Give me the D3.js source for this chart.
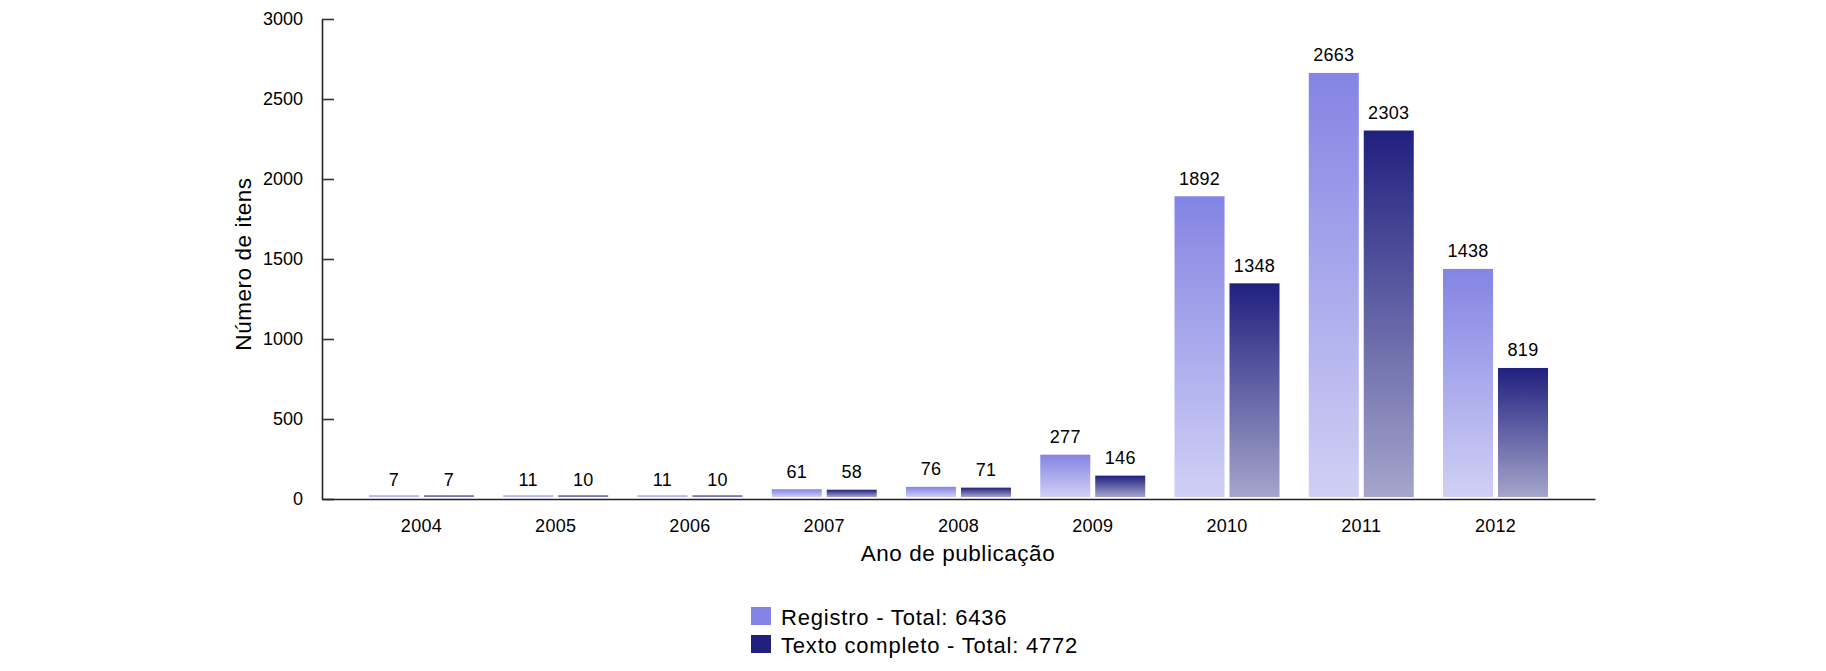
<!DOCTYPE html>
<html>
<head>
<meta charset="utf-8">
<script src="https://cdn.jsdelivr.net/npm/d3@7"></script>
<style>
  body { margin: 0; background: #fff; }
  text { font-family: "Liberation Sans", Arial, sans-serif; fill: #000; }
</style>
</head>
<body>
<div id="grafico"></div>
<script>
// Datos
var anos = ["2004", "2005", "2006", "2007", "2008", "2009", "2010", "2011", "2012"];
var series = ["Registro", "Texto completo"];
var registro = [7, 11, 11, 61, 76, 277, 1892, 2663, 1438];
var textoCompleto = [7, 10, 10, 58, 71, 146, 1348, 2303, 819];
var totales = [6436, 4772];
var yTicks = [0, 500, 1000, 1500, 2000, 2500, 3000];

var width = 1826, height = 671;
var margin = { left: 322, right: 231, top: 19, bottom: 172 };
var y0 = height - margin.bottom; // linea del eje x

// colores: [arriba, abajo] de cada degradado
var colores = [["#8484e4", "#d0d0f5"], ["#20207f", "#a5a5cc"]];

var data = anos.map(function(a, i) {
    return { ano: a, valores: [registro[i], textoCompleto[i]] };
});

var svg = d3.select("#grafico")
    .append("svg")
    .attr("width", width)
    .attr("height", height);

// degradados verticales por barra
var defs = svg.append("defs");
colores.forEach(function(c, i) {
    var g = defs.append("linearGradient")
        .attr("id", "grad" + i)
        .attr("x1", 0).attr("y1", 0)
        .attr("x2", 0).attr("y2", 1);
    g.append("stop").attr("offset", "0%").attr("stop-color", c[0]);
    g.append("stop").attr("offset", "100%").attr("stop-color", c[1]);
});

// ESCALAS
var x = d3.scaleBand()
    .domain(anos)
    .range([margin.left, width - margin.right])
    .paddingInner(0.218)
    .paddingOuter(0.35);

var xSerie = d3.scaleBand()
    .domain(d3.range(series.length))
    .range([0, x.bandwidth()])
    .paddingInner(0.09);

var y = d3.scaleLinear()
    .domain([0, 3000])
    .range([y0, margin.top]);

// EJES
var yAxis = d3.axisLeft(y)
    .tickValues(yTicks)
    .tickSizeInner(-12)
    .tickSizeOuter(0)
    .tickPadding(19)
    .tickFormat(d3.format("d"));

var xAxis = d3.axisBottom(x)
    .tickSize(0)
    .tickPadding(20);

var gy = svg.append("g")
    .attr("transform", "translate(" + margin.left + ",0)")
    .call(yAxis);
gy.selectAll("text").style("font-size", "18px");
gy.select(".domain").attr("stroke", "#222").attr("stroke-width", 1.6);
gy.selectAll(".tick line").attr("stroke", "#333").attr("stroke-width", 1.6);

var gx = svg.append("g")
    .attr("transform", "translate(0," + y0 + ")")
    .call(xAxis);
gx.selectAll("text").style("font-size", "18px").style("letter-spacing", "0.3px");
gx.select(".domain").attr("stroke", "#222").attr("stroke-width", 1.6);

// titulos de ejes
svg.append("text")
    .attr("x", 958)
    .attr("y", 561)
    .attr("text-anchor", "middle")
    .style("font-size", "22.5px")
    .style("letter-spacing", "0.55px")
    .text("Ano de publicação");

svg.append("text")
    .attr("transform", "translate(251,264) rotate(-90)")
    .attr("text-anchor", "middle")
    .style("font-size", "22.5px")
    .style("letter-spacing", "0.55px")
    .text("Número de itens");

// BARRAS
var grupos = svg.selectAll(".grupo")
    .data(data)
    .enter()
    .append("g")
    .attr("class", "grupo")
    .attr("transform", function(d) { return "translate(" + x(d.ano) + ",0)"; });

grupos.selectAll("rect")
    .data(function(d) { return d.valores; })
    .enter()
    .append("rect")
    .attr("x", function(d, i) { return xSerie(i); })
    .attr("width", xSerie.bandwidth())
    .attr("y", function(d) { return Math.min(y(d), y0 - 3.5); })
    .attr("height", function(d) { return Math.max(1.5, y0 - 2 - y(d)); })
    .style("fill", function(d, i) { return "url(#grad" + i + ")"; });

grupos.selectAll(".valor")
    .data(function(d) { return d.valores; })
    .enter()
    .append("text")
    .attr("class", "valor")
    .attr("x", function(d, i) { return xSerie(i) + xSerie.bandwidth() / 2; })
    .attr("y", function(d) { return Math.min(y(d), y0 - 2) - 11.5; })
    .attr("text-anchor", "middle")
    .style("font-size", "18px")
    .style("letter-spacing", "0.3px")
    .text(function(d) { return d; });

// LEYENDA
var leyenda = svg.selectAll(".leyenda")
    .data(series)
    .enter()
    .append("g")
    .attr("class", "leyenda")
    .attr("transform", function(d, i) { return "translate(751," + (607 + i * 28) + ")"; });

leyenda.append("rect")
    .attr("width", 20)
    .attr("height", 18)
    .style("fill", function(d, i) { return colores[i][0]; });

leyenda.append("text")
    .attr("x", 30)
    .attr("y", 18)
    .style("font-size", "22px")
    .style("letter-spacing", "0.8px")
    .text(function(d, i) { return d + " - Total: " + totales[i]; });
</script>
</body>
</html>
